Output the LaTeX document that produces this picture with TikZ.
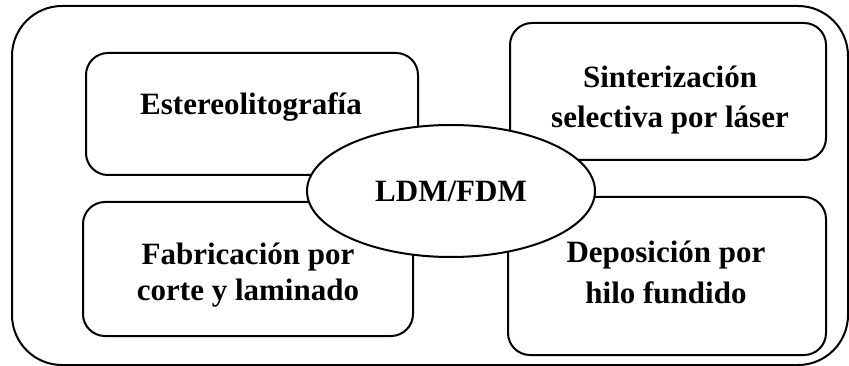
\documentclass[tikz,border=0pt]{standalone}
\usepackage{fontspec}
\setmainfont{Liberation Serif}
\usetikzlibrary{shapes.geometric}
\begin{document}
\begin{tikzpicture}[x=1pt,y=-1pt,
  frame/.style={draw=black, line width=2pt, rounded corners=50pt, minimum width=836pt, minimum height=359pt, inner sep=0pt},
  box/.style={draw=black, line width=2pt, rounded corners=22pt, fill=white, inner sep=0pt},
  hub/.style={draw=black, line width=2pt, ellipse, fill=white, inner sep=0pt, minimum width=288pt, minimum height=132pt, font=\fontsize{31}{40}\selectfont\bfseries},
  txt/.style={inner sep=0pt, anchor=base, font=\fontsize{31}{40}\selectfont\bfseries}]
\useasboundingbox (0,0) rectangle (849,366);
\node[frame] (outer) at (430,185.5) {};
\node[box, minimum width=332pt, minimum height=122pt] (b1) at (252,114) {};
\node[box, minimum width=316pt, minimum height=137pt] (b2) at (668,91.5) {};
\node[box, minimum width=330pt, minimum height=134pt] (b3) at (248,269) {};
\node[box, minimum width=318pt, minimum height=158pt] (b4) at (667,276) {};
\node[hub] (hub) at (451,191) {LDM/FDM};
\node[txt] (t1) at (251,115) {Estereolitografía};
\node[txt] (t2a) at (670,88) {Sinterización};
\node[txt] (t2b) at (670,128) {selectiva por láser};
\node[txt] (t3a) at (248,265) {Fabricación por};
\node[txt] (t3b) at (248,300) {corte y laminado};
\node[txt] (t4a) at (666,262) {Deposición por};
\node[txt] (t4b) at (666,303) {hilo fundido};
\end{tikzpicture}
\end{document}
